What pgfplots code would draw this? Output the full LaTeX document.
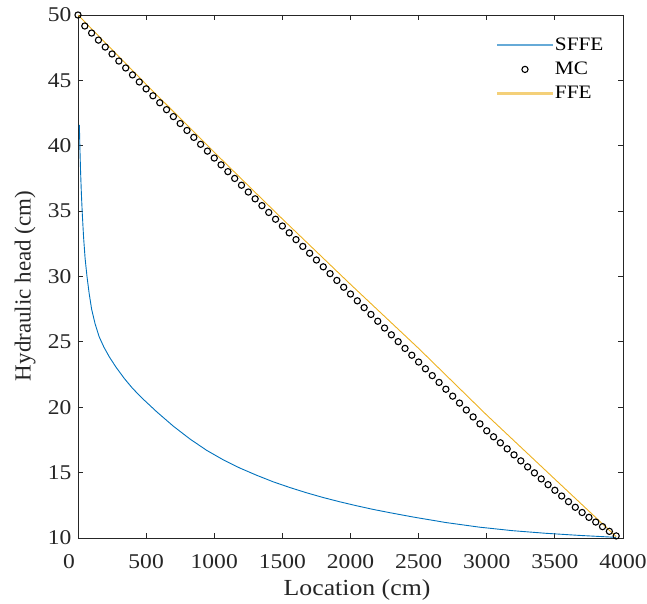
\documentclass[border=0pt]{standalone}
\usepackage{fontspec}
\setmainfont{Liberation Serif}[FakeStretch=1.12]
\newfontfamily\ylabfont{Liberation Serif}
\usepackage{pgfplots}
\pgfplotsset{compat=1.18}
\usepackage{pgfplotstable}

\definecolor{mblue}{rgb}{0,0.447,0.741}
\definecolor{morange}{rgb}{0.929,0.694,0.125}
\definecolor{axgray}{rgb}{0.15,0.15,0.15}

\pgfplotsset{
  bluelegend/.style={legend image code/.code={\color{mblue!60}\fill[mblue!60] (0pt,-0.6pt) rectangle (55pt,0.6pt);}},
  orangelegend/.style={legend image code/.code={\color{morange!60}\fill[morange!60] (0pt,-0.6pt) rectangle (55pt,0.6pt);}},
  marklegend/.style={legend image code/.code={\color{black}\draw[draw=black, line width=1.1pt] (27.5pt,0pt) circle[radius=3.1pt];}},
}

\pgfplotstableread{
x y
10 41.6
14 39.8
19 38.0
25 36.3
32 34.7
41 33.0
52 31.4
66 30.0
82 28.7
100 27.5
125 26.4
155 25.4
190 24.6
230 23.85
280 23.05
340 22.2
400 21.45
470 20.7
578 19.65
700 18.55
822 17.57
945 16.7
1066 15.98
1188 15.35
1311 14.8
1432 14.3
1555 13.86
1677 13.46
1798 13.1
1921 12.77
2043 12.47
2165 12.19
2287 11.94
2457 11.61
2702 11.18
2946 10.83
3190 10.56
3434 10.36
3678 10.2
3950 10.05
}\sffe

\pgfplotstableread{
x y
0 50.00
50 49.16
100 48.62
150 48.08
200 47.55
250 47.02
300 46.48
350 45.95
400 45.42
450 44.88
500 44.35
550 43.82
600 43.29
650 42.76
700 42.23
750 41.70
800 41.17
850 40.64
900 40.11
950 39.59
1000 39.06
1050 38.54
1100 38.02
1150 37.50
1200 36.98
1250 36.46
1300 35.94
1350 35.42
1400 34.90
1450 34.38
1500 33.86
1550 33.34
1600 32.82
1650 32.30
1700 31.78
1750 31.26
1800 30.74
1850 30.22
1900 29.70
1950 29.18
2000 28.66
2050 28.14
2100 27.62
2150 27.10
2200 26.58
2250 26.06
2300 25.54
2350 25.02
2400 24.50
2450 23.98
2500 23.46
2550 22.94
2600 22.42
2650 21.90
2700 21.38
2750 20.85
2800 20.32
2850 19.79
2900 19.26
2950 18.73
3000 18.20
3050 17.74
3100 17.28
3150 16.82
3200 16.36
3250 15.90
3300 15.44
3350 14.98
3400 14.52
3450 14.08
3500 13.65
3550 13.21
3600 12.78
3650 12.35
3700 11.95
3750 11.58
3800 11.22
3850 10.87
3900 10.51
3950 10.16
}\mc

\pgfplotstableread{
x y
0 50.0
500 44.7
1000 39.5
1500 34.4
2000 29.4
2500 24.5
3000 19.4
3500 14.5
3950 10.1
}\ffe

\begin{document}
\begin{tikzpicture}
\path[use as bounding box] (-78pt,-65pt) rectangle (569pt,538pt);
\begin{axis}[
  at={(0pt,0pt)}, anchor=south west,
  scale only axis, width=545pt, height=523pt,
  xmin=0, xmax=4000, ymin=10, ymax=50,
  xtick={0,500,...,4000}, ytick={10,15,...,50},
  xticklabels={\hbox to 0pt{\hss 0\hspace{3pt}},500,1000,1500,2000,2500,3000,3500,4000},
  tick align=inside, major tick length=5pt,
  axis line style={axgray, line width=0.8pt},
  every tick/.style={axgray, line width=0.8pt},
  tick label style={font=\fontsize{21}{21}\selectfont, text=axgray},
  /pgf/number format/assume math mode=true,
  /pgf/number format/1000 sep={},
  xticklabel style={yshift=-24pt, anchor=center},
  yticklabel style={xshift=-3pt},
  xlabel={Location (cm)},
  ylabel={\ylabfont Hydraulic head (cm)},
  xlabel style={at={(axis description cs:0.512,0)}, anchor=center, yshift=-52pt, font=\fontsize{23}{23}\selectfont, text=axgray},
  ylabel style={at={(axis description cs:-0.097,0.482)}, anchor=center, font=\fontsize{23}{23}\selectfont, text=axgray},
  legend style={at={(rel axis cs:0.763,0.9635)}, anchor=north west, draw=none, fill=none,
    font=\fontsize{19}{19}\selectfont, row sep=6pt,
    /tikz/every even column/.append style={column sep=2pt}},
  legend cell align=left,
]
\addplot[mblue, line width=0.9pt, no marks, bluelegend] table[x=x,y=y] {\sffe};
\addlegendentry{SFFE}
\addplot[black, only marks, mark=o, mark size=3.1pt, line width=1.1pt, marklegend] table[x=x,y=y] {\mc};
\addlegendentry{MC}
\addplot[morange, line width=0.9pt, no marks, orangelegend] table[x=x,y=y] {\ffe};
\addlegendentry{FFE}
\end{axis}
\end{tikzpicture}
\end{document}
